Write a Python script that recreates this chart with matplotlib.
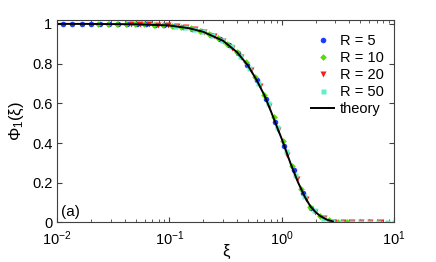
import numpy as np
import matplotlib
matplotlib.use('Agg')
from matplotlib import pyplot as plt

plt.rcParams['font.family'] = ['Liberation Sans', 'DejaVu Sans']
plt.rcParams['mathtext.fontset'] = 'custom'
plt.rcParams['mathtext.rm'] = 'Liberation Sans'
plt.rcParams['mathtext.it'] = 'Liberation Sans'

# R = 5
xi_5 = [0.0113, 0.0137, 0.0165, 0.0199, 0.024, 0.029, 0.035, 0.042, 0.051, 0.062,
        0.075, 0.090, 0.109, 0.132, 0.159, 0.192, 0.232, 0.281, 0.339, 0.410,
        0.495, 0.598, 0.722, 0.872, 1.054, 1.273, 1.538, 1.82]
phi_5 = [1.0, 1.0, 1.0, 1.0, 0.999, 0.999, 0.999, 0.998, 0.998, 0.997,
         0.995, 0.993, 0.99, 0.984, 0.975, 0.962, 0.946, 0.924, 0.893, 0.851,
         0.793, 0.716, 0.622, 0.505, 0.385, 0.265, 0.15, 0.075]

# R = 10
xi_10 = [0.0233, 0.0281, 0.034, 0.041, 0.0496, 0.0599, 0.0724, 0.0875, 0.1057, 0.1276,
         0.1542, 0.1863, 0.225, 0.272, 0.328, 0.397, 0.479, 0.579, 0.699, 0.845,
         1.021, 1.233, 1.490, 1.800, 2.174, 2.626, 3.172, 3.83]
phi_10 = [1.0, 1.0, 0.999, 0.999, 0.998, 0.997, 0.996, 0.993, 0.99, 0.985,
          0.977, 0.964, 0.949, 0.928, 0.899, 0.858, 0.807, 0.735, 0.642, 0.530,
          0.41, 0.285, 0.168, 0.08, 0.034, 0.011, 0.002, 0.0]

# R = 20
xi_20 = [0.0452, 0.0546, 0.066, 0.0797, 0.0963, 0.1163, 0.1405, 0.1697, 0.205, 0.2477,
         0.2992, 0.3614, 0.4366, 0.5274, 0.637, 0.770, 0.930, 1.123, 1.357, 1.639,
         1.980, 2.392, 2.889, 3.49, 4.216, 5.093, 6.15, 7.43]
phi_20 = [0.998, 0.998, 0.997, 0.995, 0.992, 0.988, 0.982, 0.972, 0.958, 0.94,
          0.915, 0.88, 0.833, 0.77, 0.687, 0.585, 0.465, 0.342, 0.22, 0.12,
          0.055, 0.02, 0.004, 0.0, 0.0, 0.0, 0.0, 0.0]

# R = 50
xi_50 = [0.113, 0.1365, 0.165, 0.199, 0.2406, 0.2907, 0.351, 0.424, 0.512, 0.619,
         0.748, 0.903, 1.091, 1.318, 1.592, 1.924, 2.324, 2.807, 3.391, 4.096,
         4.948, 5.978, 7.221, 8.723, 9.9]
phi_50 = [0.989, 0.983, 0.975, 0.962, 0.945, 0.92, 0.887, 0.84, 0.78, 0.70,
          0.6, 0.483, 0.36, 0.24, 0.133, 0.062, 0.024, 0.006, 0.0, 0.0,
          0.0, 0.0, 0.0, 0.0, 0.0]

xi_th = [0.01, 0.02, 0.05, 0.1, 0.15, 0.2, 0.3, 0.4, 0.5, 0.6, 0.7, 0.8, 0.9, 1.0,
         1.1, 1.2, 1.4, 1.6, 1.8, 2.0, 2.2, 2.5, 2.8, 2.85]
phi_th = [1.0, 0.9998, 0.998, 0.992, 0.978, 0.96, 0.915, 0.857, 0.79, 0.715, 0.64,
          0.56, 0.485, 0.42, 0.355, 0.295, 0.2, 0.13, 0.08, 0.052, 0.032, 0.015,
          0.006, 0.005]

fig = plt.figure(figsize=(4.36, 2.62), dpi=100)
ax = fig.add_axes([0.131, 0.151, 0.773, 0.773])

ms = 4.0
ax.plot(xi_5, phi_5, 'o', color='#1a3cff', ms=ms, mec='none', label='R = 5')
ax.plot(xi_10, phi_10, 'D', color='#55dd00', ms=ms - 0.6, mec='none', label='R = 10')
ax.plot(xi_20, phi_20, 'v', color='#ff1a1a', ms=ms + 0.4, mec='none', label='R = 20')
ax.plot(xi_50, phi_50, 's', color='#60f0c8', ms=ms - 0.4, mec='none', label='R = 50')
ax.plot(xi_th, phi_th, '-', color='k', lw=1.4, label='theory')

ax.set_xscale('log')
ax.set_xlim(1e-2, 1e1)
ax.set_ylim(0, 1.02)
ax.set_yticks([0, 0.2, 0.4, 0.6, 0.8, 1])
ax.set_yticklabels(['0', '0.2', '0.4', '0.6', '0.8', '1'])

ax.tick_params(which='both', direction='in', top=True, right=True,
               labelsize=10.5, colors='#404040', labelcolor='k')
ax.tick_params(axis='x', pad=5)
ax.tick_params(which='major', length=3.5)
ax.tick_params(which='minor', length=2)
for s in ax.spines.values():
    s.set_color('#404040')
    s.set_linewidth(0.8)

ax.set_xlabel('ξ', fontsize=12, labelpad=-3)
ax.set_ylabel('Φ$_1$(ξ)', fontsize=12, labelpad=4)
ax.text(0.012, 0.03, '(a)', transform=ax.transAxes, fontsize=11)

ax.legend(loc='upper right', frameon=False, fontsize=10.5, handlelength=1.6,
          handletextpad=0.4, labelspacing=0.2, borderaxespad=0.3,
          bbox_to_anchor=(1.0, 0.98))

fig.savefig('out.png', dpi=100)
